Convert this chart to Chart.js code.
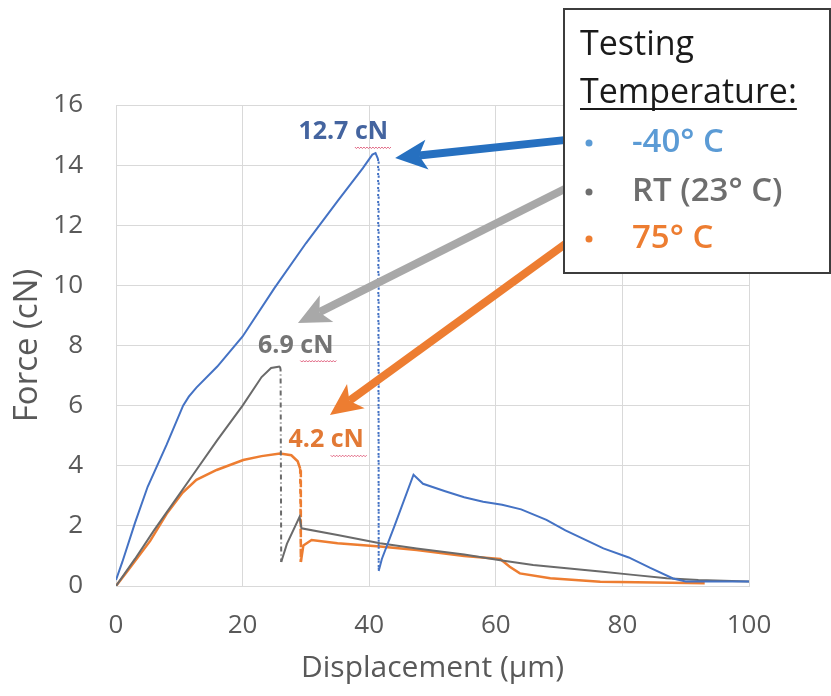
<!DOCTYPE html>
<html>
<head>
<meta charset="utf-8">
<script src="https://cdn.jsdelivr.net/npm/chart.js@4"></script>
<style>
  body { margin: 0; background: #fff; }
  #wrap { width: 831px; height: 696px; }
</style>
</head>
<body>
<div id="wrap"><canvas id="forceChart" width="831" height="696"></canvas></div>
<script>
// -40 C run
const coldX = [0, 1, 3, 5, 8, 10.6, 11.5, 12.7, 16, 20, 25, 30, 35, 39, 40.5, 41, 41.4, 41.5, 42, 44, 47, 48.5, 52, 55, 58, 61, 64, 68, 71, 74, 77, 81, 84.4, 88, 90, 95, 100];
const coldY = [0.2, 0.8, 2.1, 3.3, 4.7, 6.0, 6.3, 6.6, 7.3, 8.3, 9.9, 11.4, 12.8, 13.9, 14.35, 14.4, 14.2, 0.5, 0.9, 2.0, 3.7, 3.4, 3.15, 2.95, 2.8, 2.7, 2.55, 2.2, 1.85, 1.55, 1.25, 0.95, 0.6, 0.25, 0.15, 0.15, 0.15];

// room temperature run
const roomX = [0, 3, 6, 9, 12, 16, 20, 23, 24.5, 25.9, 26, 26.1, 27, 29, 29.3, 35, 41.7, 47.5, 55, 60.7, 65.9, 71.2, 76.5, 81.7, 87, 92, 100];
const roomY = [0, 0.9, 1.85, 2.75, 3.65, 4.85, 6.0, 6.95, 7.25, 7.3, 7.2, 0.8, 1.4, 2.3, 1.92, 1.7, 1.42, 1.25, 1.05, 0.86, 0.7, 0.59, 0.48, 0.37, 0.26, 0.2, 0.15];

// 75 C run
const hotX = [0, 2, 5.4, 8, 10.5, 12.7, 15.9, 20.1, 23, 25.9, 27.7, 28.7, 29.1, 29.2, 29.6, 30.9, 35, 41.7, 47.5, 55, 60.7, 62.2, 63.8, 68.6, 76.5, 85, 93];
const hotY = [0, 0.55, 1.5, 2.4, 3.1, 3.53, 3.86, 4.19, 4.32, 4.41, 4.35, 4.15, 3.9, 0.8, 1.35, 1.53, 1.42, 1.31, 1.2, 1.0, 0.9, 0.64, 0.42, 0.26, 0.14, 0.12, 0.09];

const seriesNames = ['-40° C', 'RT (23° C)', '75° C'];
const peakLabels = ['12.7 cN', '6.9 cN', '4.2 cN'];
// label centres and arrow tail/tip, in axis units
const labelPos = [[35.9, 15.1], [28.4, 8.0], [33.2, 4.85]];
const arrowFrom = [[71.2, 14.84], [71.2, 13.24], [71.2, 11.41]];
const arrowTo = [[44.1, 14.24], [28.75, 8.75], [33.8, 5.69]];

const lineColors = ['#4472c4', '#6a6a6a', '#ed7d31'];
const arrowColors = ['#2670c0', '#a8a8a8', '#ed7d31'];
const labelColors = ['#44649f', '#747474', '#e27935'];
const keyColors = ['#5b9bd5', '#6e6e6e', '#ed7d31'];
const dropDash = [[2, 5], [5, 3, 1, 3], [5, 5]];

const FONT = "'Open Sans', sans-serif";

function toPoints(xs, ys) {
  return xs.map((x, i) => ({ x: x, y: ys[i] }));
}

function makeSet(label, xs, ys, i) {
  return {
    label: label,
    data: toPoints(xs, ys),
    showLine: true,
    borderColor: lineColors[i],
    borderWidth: i === 2 ? 2.5 : 2,
    pointRadius: 0,
    tension: 0,
    segment: {
      // vertical drops are drawn broken, like the original
      borderDash: ctx => Math.abs(ctx.p0.parsed.x - ctx.p1.parsed.x) < 0.3 ? dropDash[i] : undefined
    }
  };
}

function arrow(ctx, x1, y1, x2, y2, color) {
  const ang = Math.atan2(y2 - y1, x2 - x1);
  const headLen = 32, headW = 15, notch = 8;
  const bx = x2 - Math.cos(ang) * (headLen - notch);
  const by = y2 - Math.sin(ang) * (headLen - notch);
  ctx.save();
  ctx.strokeStyle = color;
  ctx.fillStyle = color;
  ctx.lineWidth = 8;
  ctx.beginPath();
  ctx.moveTo(x1, y1);
  ctx.lineTo(bx, by);
  ctx.stroke();
  ctx.translate(x2, y2);
  ctx.rotate(ang);
  ctx.beginPath();
  ctx.moveTo(0, 0);
  ctx.lineTo(-headLen, -headW);
  ctx.lineTo(-headLen + notch, 0);
  ctx.lineTo(-headLen, headW);
  ctx.closePath();
  ctx.fill();
  ctx.restore();
}

function squiggle(ctx, x1, x2, y) {
  ctx.save();
  ctx.strokeStyle = '#e0607e';
  ctx.lineWidth = 1;
  ctx.beginPath();
  ctx.moveTo(x1, y);
  for (let x = x1; x <= x2; x += 3) {
    ctx.lineTo(x + 1.5, y + 1.5);
    ctx.lineTo(x + 3, y);
  }
  ctx.stroke();
  ctx.restore();
}

const callouts = {
  id: 'callouts',
  afterDraw(chart) {
    const ctx = chart.ctx;
    const xs = chart.scales.x, ys = chart.scales.y;

    // arrows from the key to the peaks
    for (let i = 0; i < 3; i++) {
      arrow(ctx,
        xs.getPixelForValue(arrowFrom[i][0]), ys.getPixelForValue(arrowFrom[i][1]),
        xs.getPixelForValue(arrowTo[i][0]), ys.getPixelForValue(arrowTo[i][1]),
        arrowColors[i]);
    }

    // peak force labels
    ctx.save();
    ctx.font = 'bold 25px ' + FONT;
    ctx.textAlign = 'center';
    ctx.textBaseline = 'middle';
    for (let i = 0; i < 3; i++) {
      const px = xs.getPixelForValue(labelPos[i][0]);
      const py = ys.getPixelForValue(labelPos[i][1]);
      ctx.fillStyle = labelColors[i];
      ctx.fillText(peakLabels[i], px, py);
      const w = ctx.measureText(peakLabels[i]).width;
      const cw = ctx.measureText('cN').width;
      squiggle(ctx, px + w / 2 - cw, px + w / 2, py + 15);
    }
    ctx.restore();

    // key box
    ctx.save();
    ctx.fillStyle = '#fff';
    ctx.fillRect(564, 9, 266, 264);
    ctx.strokeStyle = '#3c3c3c';
    ctx.lineWidth = 2;
    ctx.strokeRect(564, 9, 266, 264);

    ctx.fillStyle = '#1a1a1a';
    ctx.font = '34px ' + FONT;
    ctx.textBaseline = 'alphabetic';
    ctx.textAlign = 'left';
    ctx.fillText('Testing', 580, 55);
    ctx.fillText('Temperature:', 580, 103);
    const tw = ctx.measureText('Temperature:').width;
    ctx.fillRect(580, 108, tw, 2);

    ctx.font = '600 33px ' + FONT;
    const rows = [143, 192, 239];
    for (let i = 0; i < 3; i++) {
      ctx.fillStyle = keyColors[i];
      ctx.beginPath();
      ctx.arc(589, rows[i], 3.5, 0, Math.PI * 2);
      ctx.fill();
      ctx.textBaseline = 'middle';
      ctx.fillText(seriesNames[i], 632, rows[i]);
    }
    ctx.restore();
  }
};

new Chart(document.getElementById('forceChart'), {
  type: 'scatter',
  data: {
    datasets: [
      makeSet(seriesNames[0], coldX, coldY, 0),
      makeSet(seriesNames[1], roomX, roomY, 1),
      makeSet(seriesNames[2], hotX, hotY, 2)
    ]
  },
  options: {
    responsive: false,
    animation: false,
    layout: { padding: { top: 105, right: 82, left: 0, bottom: 0 } },
    plugins: { legend: { display: false }, tooltip: { enabled: false } },
    scales: {
      x: {
        type: 'linear', min: 0, max: 100,
        afterFit: s => { s.height = 110; },
        ticks: { stepSize: 20, color: '#595959', font: { family: FONT, size: 26 }, padding: 24 },
        grid: { color: '#d9d9d9', drawTicks: false },
        border: { color: '#d9d9d9' },
        title: { display: true, text: 'Displacement (µm)', color: '#595959', font: { family: FONT, size: 30 }, padding: { bottom: 10 } }
      },
      y: {
        min: 0, max: 16,
        afterFit: s => { s.width = 116; },
        ticks: { stepSize: 2, color: '#595959', font: { family: FONT, size: 26 }, padding: 33 },
        grid: { color: '#d9d9d9', drawTicks: false },
        border: { color: '#d9d9d9' },
        title: { display: true, text: 'Force (cN)', color: '#595959', font: { family: FONT, size: 33 }, padding: { top: 8 } }
      }
    }
  },
  plugins: [callouts]
});
</script>
</body>
</html>
